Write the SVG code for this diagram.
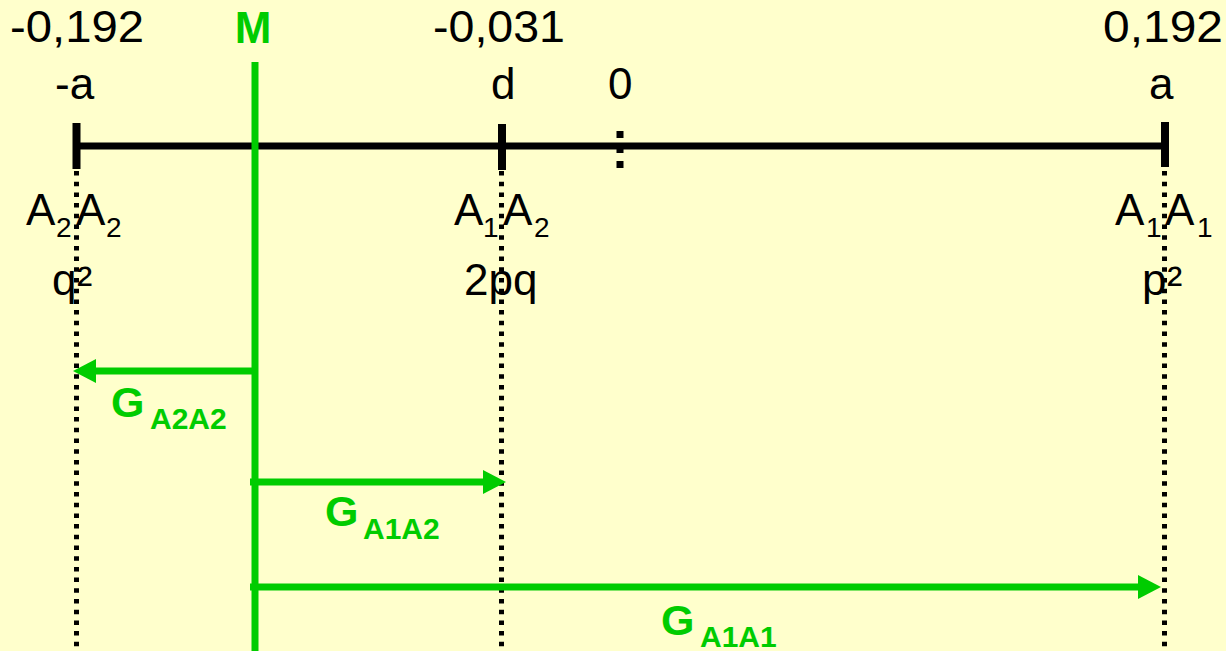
<svg xmlns="http://www.w3.org/2000/svg" width="1226" height="651" viewBox="0 0 1226 651">
<defs>
<style>
.t{font-family:"Liberation Sans",Arial,sans-serif;font-size:44px;fill:#000}
.sub{font-size:28px}
.sup{font-size:46px}
.g{font-family:"Liberation Sans",Arial,sans-serif;font-weight:bold;fill:#00CC00}
.G{font-size:43px}
.gs{font-size:30px}
.dot{stroke:#000;stroke-width:5;stroke-dasharray:4.5 6.2;fill:none}
.zero{stroke:#000;stroke-width:7;stroke-dasharray:7 8;fill:none}
.axis{stroke:#000;stroke-width:7;fill:none}
.tick{stroke:#000;stroke-width:8;fill:none}
.mline{stroke:#00CC00;stroke-width:7;fill:none}
.arr{stroke:#00CC00;stroke-width:7;fill:none;marker-end:url(#head)}
</style>
<marker id="head" markerUnits="userSpaceOnUse" markerWidth="24" markerHeight="24" viewBox="0 0 24 24" refX="1" refY="12" orient="auto">
<path d="M0,0 L23,12 L0,24 z" fill="#00CC00"/>
</marker>
</defs>
<rect width="1226" height="651" fill="#FFFFCC"/>

<g id="axis">
<line class="axis" x1="77" y1="146" x2="1164" y2="146"/>
<line class="dot" x1="76.5" y1="171" x2="76.5" y2="651"/>
<line class="dot" x1="501.5" y1="171" x2="501.5" y2="651"/>
<line class="dot" x1="1164.5" y1="171" x2="1164.5" y2="651"/>
<line class="zero" x1="620" y1="131" x2="620" y2="170"/>
</g>

<g id="node-minus-a">
<line class="tick" x1="76.5" y1="123" x2="76.5" y2="169"/>
<text class="t" x="10" y="42" textLength="134" lengthAdjust="spacingAndGlyphs">-0,192</text>
<text class="t" x="55" y="99">-a</text>
<text class="t" y="225"><tspan x="26">A</tspan><tspan class="sub" x="56" y="237">2</tspan><tspan x="76" y="225">A</tspan><tspan class="sub" x="106" y="237">2</tspan></text>
<text class="t" y="295"><tspan x="52">q</tspan><tspan class="sup" x="77" y="299">²</tspan></text>
</g>

<g id="node-d">
<line class="tick" x1="502" y1="124" x2="502" y2="170"/>
<text class="t" x="433" y="42" textLength="132" lengthAdjust="spacingAndGlyphs">-0,031</text>
<text class="t" x="491" y="99">d</text>
<text class="t" y="225"><tspan x="454">A</tspan><tspan class="sub" x="483" y="237">1</tspan><tspan x="503" y="225">A</tspan><tspan class="sub" x="534" y="237">2</tspan></text>
<text class="t" x="464" y="295">2pq</text>
</g>

<g id="node-zero">
<text class="t" x="608" y="99">0</text>
</g>

<g id="node-a">
<line class="tick" x1="1165" y1="122" x2="1165" y2="167"/>
<text class="t" x="1103" y="42" textLength="120" lengthAdjust="spacingAndGlyphs">0,192</text>
<text class="t" x="1149" y="99">a</text>
<text class="t" y="225"><tspan x="1115">A</tspan><tspan class="sub" x="1146" y="237">1</tspan><tspan x="1165" y="225">A</tspan><tspan class="sub" x="1197" y="237">1</tspan></text>
<text class="t" y="295"><tspan x="1142">p</tspan><tspan class="sup" x="1167" y="299">²</tspan></text>
</g>

<g id="node-M">
<line class="mline" x1="255" y1="62" x2="255" y2="651"/>
<text class="g" x="253" y="43" font-size="44" text-anchor="middle">M</text>
</g>

<g id="connectors">
<line class="arr" x1="252" y1="371" x2="95" y2="371"/>
<line class="arr" x1="250" y1="482" x2="484" y2="482"/>
<line class="arr" x1="250" y1="587" x2="1139" y2="587"/>
</g>

<g id="labels">
<text class="g G" y="417"><tspan x="111">G</tspan><tspan class="gs" x="150" y="429">A2A2</tspan></text>
<text class="g G" y="526"><tspan x="325">G</tspan><tspan class="gs" x="363" y="539">A1A2</tspan></text>
<text class="g G" y="635"><tspan x="661">G</tspan><tspan class="gs" x="700" y="647">A1A1</tspan></text>
</g>
</svg>
